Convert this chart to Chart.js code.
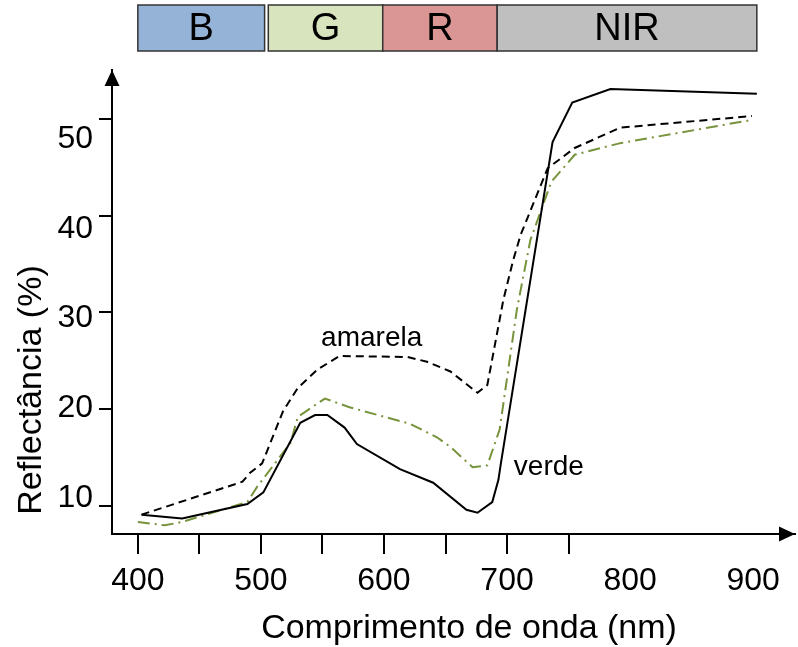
<!DOCTYPE html>
<html lang="pt">
<head>
    <meta charset="UTF-8">
    <title>Reflectância</title>
    <script src="https://cdn.jsdelivr.net/npm/chart.js@4.4.0/dist/chart.umd.min.js"></script>
    <style>
        html, body { margin: 0; padding: 0; background: #fff; }
        #board { width: 798px; height: 647px; }
    </style>
</head>
<body>
    <div id="board">
        <canvas id="chart1" width="798" height="647"></canvas>
    </div>
<script>
    // folha verde (linha contínua)
    const verdeX = [403, 436, 489, 502, 532, 544, 554, 568, 578, 613, 640, 667, 676, 688, 693, 695, 737, 753, 784, 903];
    const verdeY = [9.1, 8.7, 10.2, 11.4, 18.6, 19.4, 19.4, 18.1, 16.4, 13.8, 12.4, 9.6, 9.3, 10.4, 12.7, 14.4, 47.6, 51.7, 53.1, 52.6];

    // folha amarela (tracejado)
    const amarelaX = [403, 485, 491, 501, 518, 530, 546, 564, 619, 635, 654, 676, 684, 697, 705, 711, 733, 755, 792, 899];
    const amarelaY = [9.1, 12.5, 13.4, 14.4, 19.8, 22.2, 24.1, 25.5, 25.4, 24.9, 23.9, 21.7, 22.5, 31.3, 35.4, 38.0, 44.9, 47.0, 49.1, 50.3];

    // intermédia (traço-ponto verde)
    const mediaX = [400, 422, 436, 489, 497, 524, 530, 546, 552, 572, 621, 643, 654, 672, 684, 694, 708, 719, 736, 755, 792, 899];
    const mediaY = [8.35, 8.0, 8.35, 10.4, 12.0, 16.5, 19.2, 20.6, 21.1, 20.2, 18.5, 17.1, 16.1, 14.0, 14.2, 17.9, 30.3, 37.5, 43.5, 46.3, 47.5, 49.9];

    const xTicks = [400, 450, 500, 550, 600, 650, 700, 750, 800, 850, 900];
    const yTicks = [10, 20, 30, 40, 50];

    // bandas do espectro (nm)
    const bandas = ['B', 'G', 'R', 'NIR'];
    const bandaIni = [400, 506, 599, 692];
    const bandaFim = [503, 599, 692, 903];
    const bandaCor = ['#95b3d7', '#d7e4bd', '#d99694', '#bfbfbf'];

    const FONT = "'Liberation Sans', Arial, sans-serif";

    const pts = (xs, ys) => xs.map((v, i) => ({x: v, y: ys[i]}));

    const extras = {
        id: 'extras',
        afterDraw(chart) {
            const ctx = chart.ctx;
            const a = chart.chartArea;
            const x = chart.scales.x;
            const y = chart.scales.y;
            ctx.save();

            // setas dos eixos
            ctx.fillStyle = '#000';
            ctx.beginPath();
            ctx.moveTo(a.left, a.top);
            ctx.lineTo(a.left - 7.5, a.top + 16);
            ctx.lineTo(a.left + 7.5, a.top + 16);
            ctx.closePath();
            ctx.fill();
            ctx.beginPath();
            ctx.moveTo(a.right, a.bottom);
            ctx.lineTo(a.right - 16, a.bottom - 7.5);
            ctx.lineTo(a.right - 16, a.bottom + 7.5);
            ctx.closePath();
            ctx.fill();

            // caixas B G R NIR
            ctx.lineWidth = 1.5;
            ctx.strokeStyle = '#333';
            ctx.textAlign = 'center';
            ctx.textBaseline = 'middle';
            ctx.font = '38px ' + FONT;
            bandas.forEach((b, i) => {
                const x0 = x.getPixelForValue(bandaIni[i]);
                const x1 = x.getPixelForValue(bandaFim[i]);
                ctx.fillStyle = bandaCor[i];
                ctx.fillRect(x0, 5, x1 - x0, 46);
                ctx.strokeRect(x0, 5, x1 - x0, 46);
                ctx.fillStyle = '#000';
                ctx.fillText(b, (x0 + x1) / 2, 30);
            });

            // rótulos das curvas
            ctx.font = '28px ' + FONT;
            ctx.fillText('amarela', x.getPixelForValue(590), y.getPixelForValue(27.3));
            ctx.fillText('verde', x.getPixelForValue(734), y.getPixelForValue(14.0));

            // títulos dos eixos
            ctx.font = '34px ' + FONT;
            ctx.textBaseline = 'alphabetic';
            ctx.fillText('Comprimento de onda (nm)', 469, 638);
            ctx.translate(41, 390);
            ctx.rotate(-Math.PI / 2);
            ctx.fillText('Reflectância (%)', 0, 0);
            ctx.restore();
        }
    };

    const ctx = document.getElementById('chart1').getContext('2d');

    new Chart(ctx, {
        type: 'line',
        data: {
            datasets: [
                {
                    label: 'verde',
                    data: pts(verdeX, verdeY),
                    borderColor: '#000',
                    borderWidth: 2
                },
                {
                    label: 'amarela',
                    data: pts(amarelaX, amarelaY),
                    borderColor: '#000',
                    borderWidth: 2,
                    borderDash: [8, 5]
                },
                {
                    label: 'intermédia',
                    data: pts(mediaX, mediaY),
                    borderColor: '#77933c',
                    borderWidth: 2,
                    borderDash: [12, 5, 2, 5]
                }
            ]
        },
        options: {
            responsive: false,
            animation: false,
            elements: { point: { radius: 0 }, line: { tension: 0 } },
            layout: { padding: { top: 70, right: 3, left: 0, bottom: 0 } },
            plugins: {
                legend: { display: false },
                tooltip: { enabled: false }
            },
            scales: {
                x: {
                    type: 'linear',
                    min: 379,
                    max: 934,
                    afterBuildTicks: s => { s.ticks = xTicks.map(v => ({value: v})); },
                    afterFit: s => { s.height = 113; },
                    border: { display: true, color: '#000', width: 2 },
                    grid: {
                        drawOnChartArea: false,
                        drawTicks: true,
                        tickLength: 20,
                        lineWidth: 2,
                        color: c => (c.tick && c.tick.value <= 750) ? '#000' : 'rgba(0,0,0,0)'
                    },
                    ticks: {
                        autoSkip: false,
                        maxRotation: 0,
                        padding: 8,
                        color: '#000',
                        font: { family: FONT, size: 32 },
                        callback: v => (v % 100 === 0 ? String(v) : '')
                    }
                },
                y: {
                    position: 'left',
                    weight: 0,
                    min: 7.1,
                    max: 55.06,
                    afterBuildTicks: s => { s.ticks = yTicks.map(v => ({value: v})); },
                    afterFit: s => { s.width = 19; },
                    border: { display: true, color: '#000', width: 2 },
                    grid: {
                        drawOnChartArea: false,
                        drawTicks: true,
                        tickLength: 13,
                        lineWidth: 2,
                        color: '#000'
                    },
                    ticks: { display: false }
                },
                // eixo só para os números da escala (ficam um pouco desalinhados no original)
                yLab: {
                    position: 'left',
                    weight: 1,
                    min: 5.99,
                    max: 57.69,
                    afterBuildTicks: s => { s.ticks = yTicks.map(v => ({value: v})); },
                    afterFit: s => { s.width = 93; },
                    border: { display: false },
                    grid: { display: false, drawTicks: false },
                    ticks: {
                        padding: 0,
                        color: '#000',
                        font: { family: FONT, size: 32 }
                    }
                }
            }
        },
        plugins: [extras]
    });
</script>
</body>
</html>
